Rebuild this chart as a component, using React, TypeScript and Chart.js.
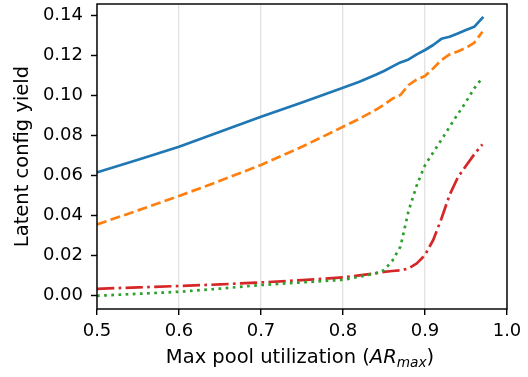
import React, { useEffect, useRef } from "react";
import { Chart, registerables } from "chart.js";

Chart.register(...registerables);

// ---- data ----
const xValues = [0.5, 0.55, 0.6, 0.65, 0.7, 0.75, 0.8, 0.82, 0.84, 0.85, 0.86, 0.87, 0.88, 0.89, 0.9, 0.91, 0.92, 0.93, 0.94, 0.95, 0.96, 0.97];
const blueValues = [0.0617, 0.068, 0.0745, 0.082, 0.0895, 0.0967, 0.104, 0.107, 0.1105, 0.1124, 0.1146, 0.1167, 0.1182, 0.1207, 0.1229, 0.1254, 0.1285, 0.1295, 0.1312, 0.1329, 0.1345, 0.139];
const orangeValues = [0.0357, 0.0427, 0.0499, 0.0575, 0.0654, 0.0745, 0.0845, 0.0885, 0.093, 0.0955, 0.0985, 0.1004, 0.1054, 0.1082, 0.1099, 0.1137, 0.1179, 0.1207, 0.1222, 0.124, 0.1265, 0.132];
const greenValues = [0.0, 0.001, 0.002, 0.0036, 0.0054, 0.0067, 0.008, 0.0095, 0.0113, 0.0128, 0.0174, 0.0245, 0.0425, 0.0553, 0.0653, 0.0717, 0.078, 0.0845, 0.0908, 0.097, 0.1037, 0.109];
const redValues = [0.0035, 0.0042, 0.0049, 0.0057, 0.0067, 0.0078, 0.0092, 0.0102, 0.0113, 0.012, 0.0124, 0.0127, 0.0137, 0.0162, 0.0204, 0.0279, 0.0385, 0.0504, 0.0592, 0.065, 0.0707, 0.0757];

const xTicks = [0.5, 0.6, 0.7, 0.8, 0.9, 1.0];
const yTicks = [0.0, 0.02, 0.04, 0.06, 0.08, 0.1, 0.12, 0.14];
const xRange = [0.5, 1.0];
const yRange = [-0.0066, 0.1459];

const yTitle = "Latent config yield";
const xTitlePrefix = "Max pool utilization (";
const xTitleSymbol = "AR";
const xTitleSub = "max";
const xTitleSuffix = ")";

const FONT = '"DejaVu Sans", sans-serif';

const toPoints = (ys: number[]) => xValues.map((x, i) => ({ x, y: ys[i] }));

const framePlugin = {
  id: "frame",
  afterDatasetsDraw(chart: any) {
    const { ctx, chartArea: a } = chart;
    ctx.save();
    ctx.strokeStyle = "#000";
    ctx.lineWidth = 1.45;
    ctx.strokeRect(a.left, a.top, a.right - a.left, a.bottom - a.top);
    ctx.restore();
  },
};

const xTitlePlugin = {
  id: "xTitle",
  afterDraw(chart: any) {
    const { ctx, chartArea: a } = chart;
    const parts = [
      { t: xTitlePrefix, font: `19.5px ${FONT}`, dy: 0 },
      { t: xTitleSymbol, font: `italic 19.5px ${FONT}`, dy: 0 },
      { t: xTitleSub, font: `italic 13.7px ${FONT}`, dy: 4 },
      { t: xTitleSuffix, font: `19.5px ${FONT}`, dy: 0 },
    ];
    ctx.save();
    ctx.fillStyle = "#000";
    ctx.textBaseline = "alphabetic";
    ctx.textAlign = "left";
    let total = 0;
    const widths = parts.map((p) => {
      ctx.font = p.font;
      const w = ctx.measureText(p.t).width;
      total += w;
      return w;
    });
    let x = (a.left + a.right) / 2 - 2 - total / 2;
    const baseY = a.bottom + 54;
    parts.forEach((p, i) => {
      ctx.font = p.font;
      ctx.fillText(p.t, x, baseY + p.dy);
      x += widths[i];
    });
    ctx.restore();
  },
};

export default function App() {
  const canvasRef = useRef<HTMLCanvasElement | null>(null);

  useEffect(() => {
    document.body.style.margin = "0";
    const canvas = canvasRef.current;
    if (!canvas) return;
    const lw = 2.7;
    const chart = new Chart(canvas, {
      type: "line",
      data: {
        datasets: [
          {
            data: toPoints(blueValues),
            borderColor: "#1f77b4",
            borderWidth: lw,
            borderCapStyle: "square",
            borderJoinStyle: "round",
          },
          {
            data: toPoints(orangeValues),
            borderColor: "#ff7f0e",
            borderWidth: lw,
            borderDash: [10, 4.3],
            borderCapStyle: "butt",
            borderJoinStyle: "round",
          },
          {
            data: toPoints(greenValues),
            borderColor: "#2ca02c",
            borderWidth: lw,
            borderDash: [2.7, 4.46],
            borderCapStyle: "butt",
            borderJoinStyle: "round",
          },
          {
            data: toPoints(redValues),
            borderColor: "#d62728",
            borderWidth: lw,
            borderDash: [17.3, 4.3, 2.7, 4.3],
            borderCapStyle: "butt",
            borderJoinStyle: "round",
          },
        ] as any,
      },
      options: {
        responsive: false,
        animation: false,
        devicePixelRatio: 1,
        parsing: false as any,
        normalized: true,
        elements: { point: { radius: 0, hoverRadius: 0 }, line: { tension: 0, fill: false } },
        layout: { padding: { top: 4, right: 21, bottom: 0, left: 0 } },
        plugins: {
          legend: { display: false },
          tooltip: { enabled: false },
          title: { display: false },
        },
        scales: {
          x: {
            type: "linear",
            min: xRange[0],
            max: xRange[1],
            border: { display: false },
            grid: {
              display: true,
              drawOnChartArea: true,
              color: "rgba(176,176,176,0.35)",
              lineWidth: 1.4,
              drawTicks: true,
              tickLength: 6,
              tickColor: "#000",
              tickWidth: 1.45,
            },
            ticks: {
              color: "#000",
              font: { family: FONT, size: 18 },
              padding: 6,
              maxRotation: 0,
              autoSkip: false,
              callback: (v: any) => Number(v).toFixed(1),
            },
            afterBuildTicks: (scale: any) => {
              scale.ticks = xTicks.map((v) => ({ value: v }));
            },
            afterFit: (scale: any) => {
              scale.height = 68;
              scale.paddingLeft = 0;
              scale.paddingRight = 0;
            },
          },
          y: {
            type: "linear",
            min: yRange[0],
            max: yRange[1],
            border: { display: false },
            grid: {
              display: true,
              drawOnChartArea: false,
              drawTicks: true,
              tickLength: 6,
              tickColor: "#000",
              tickWidth: 1.45,
            },
            ticks: {
              color: "#000",
              font: { family: FONT, size: 18 },
              padding: 8,
              autoSkip: false,
              callback: (v: any) => Number(v).toFixed(2),
            },
            title: {
              display: true,
              text: yTitle,
              color: "#000",
              font: { family: FONT, size: 19.5 },
              padding: { top: 11, bottom: 0 },
            },
            afterBuildTicks: (scale: any) => {
              scale.ticks = yTicks.map((v) => ({ value: v }));
            },
            afterFit: (scale: any) => {
              scale.width = 97;
              scale.paddingTop = 0;
              scale.paddingBottom = 0;
            },
          },
        },
      } as any,
      plugins: [framePlugin, xTitlePlugin],
    });
    return () => chart.destroy();
  }, []);

  return (
    <div style={{ width: 528, height: 377, background: "#fff" }}>
      <canvas ref={canvasRef} width={528} height={377} style={{ display: "block" }} />
    </div>
  );
}
